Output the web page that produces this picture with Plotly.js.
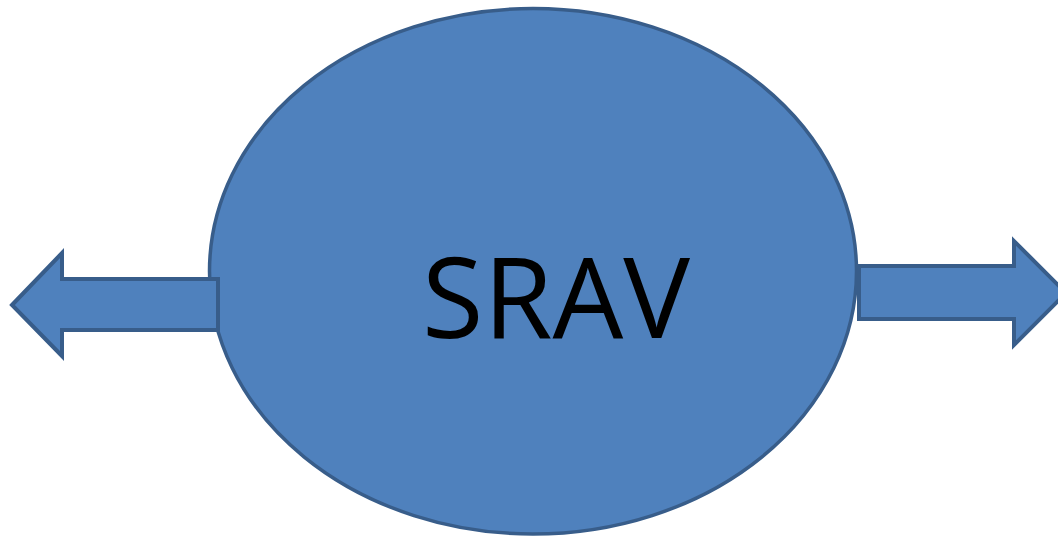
<!DOCTYPE html>
<html>
<head>
<meta charset="utf-8">
<script src="https://cdn.plot.ly/plotly-3.0.1.min.js"></script>
<style>html,body{margin:0;padding:0;background:#fff;}#chart{width:1058px;height:542px;}</style>
</head>
<body>
<div id="chart"></div>
<script>
// Diagram content
const labels = ["SRAV"];
const ellipseBox = [209.5, 8.5, 856.5, 534];           // x0, y0, x1, y1
const leftArrowX = [12, 62, 62, 218, 218, 62, 62, 12];
const leftArrowY = [305, 253, 279, 279, 330, 330, 356, 305];
const rightArrowX = [859, 1014, 1014, 1066, 1014, 1014, 859, 859];
const rightArrowY = [266, 266, 241, 293, 345, 319, 319, 266];

const fillColor = "#4F81BD";
const lineColor = "#385D8A";

function pathFrom(xs, ys) {
  return xs.map((x, i) => (i ? "L" : "M") + x + "," + ys[i]).join(" ") + " Z";
}

const layout = {
  width: 1058, height: 542,
  margin: {l: 0, r: 0, t: 0, b: 0, pad: 0},
  paper_bgcolor: "#ffffff", plot_bgcolor: "#ffffff",
  showlegend: false,
  xaxis: {range: [0, 1058], visible: false, fixedrange: true},
  yaxis: {range: [542, 0], visible: false, fixedrange: true},
  shapes: [
    {type: "circle", xref: "x", yref: "y",
     x0: ellipseBox[0], y0: ellipseBox[1], x1: ellipseBox[2], y1: ellipseBox[3],
     fillcolor: fillColor, line: {color: lineColor, width: 3.5}, layer: "above"},
    {type: "path", xref: "x", yref: "y", path: pathFrom(leftArrowX, leftArrowY),
     fillcolor: fillColor, line: {color: lineColor, width: 4}, layer: "above"},
    {type: "path", xref: "x", yref: "y", path: pathFrom(rightArrowX, rightArrowY),
     fillcolor: fillColor, line: {color: lineColor, width: 4}, layer: "above"}
  ],
  annotations: [
    {x: 556, y: 294, xref: "x", yref: "y", text: labels[0], showarrow: false,
     xanchor: "center", yanchor: "middle",
     font: {family: "Open Sans, sans-serif", size: 112, color: "#000000"}}
  ]
};

Plotly.newPlot("chart", [], layout, {staticPlot: true, displayModeBar: false});
</script>
</body>
</html>
